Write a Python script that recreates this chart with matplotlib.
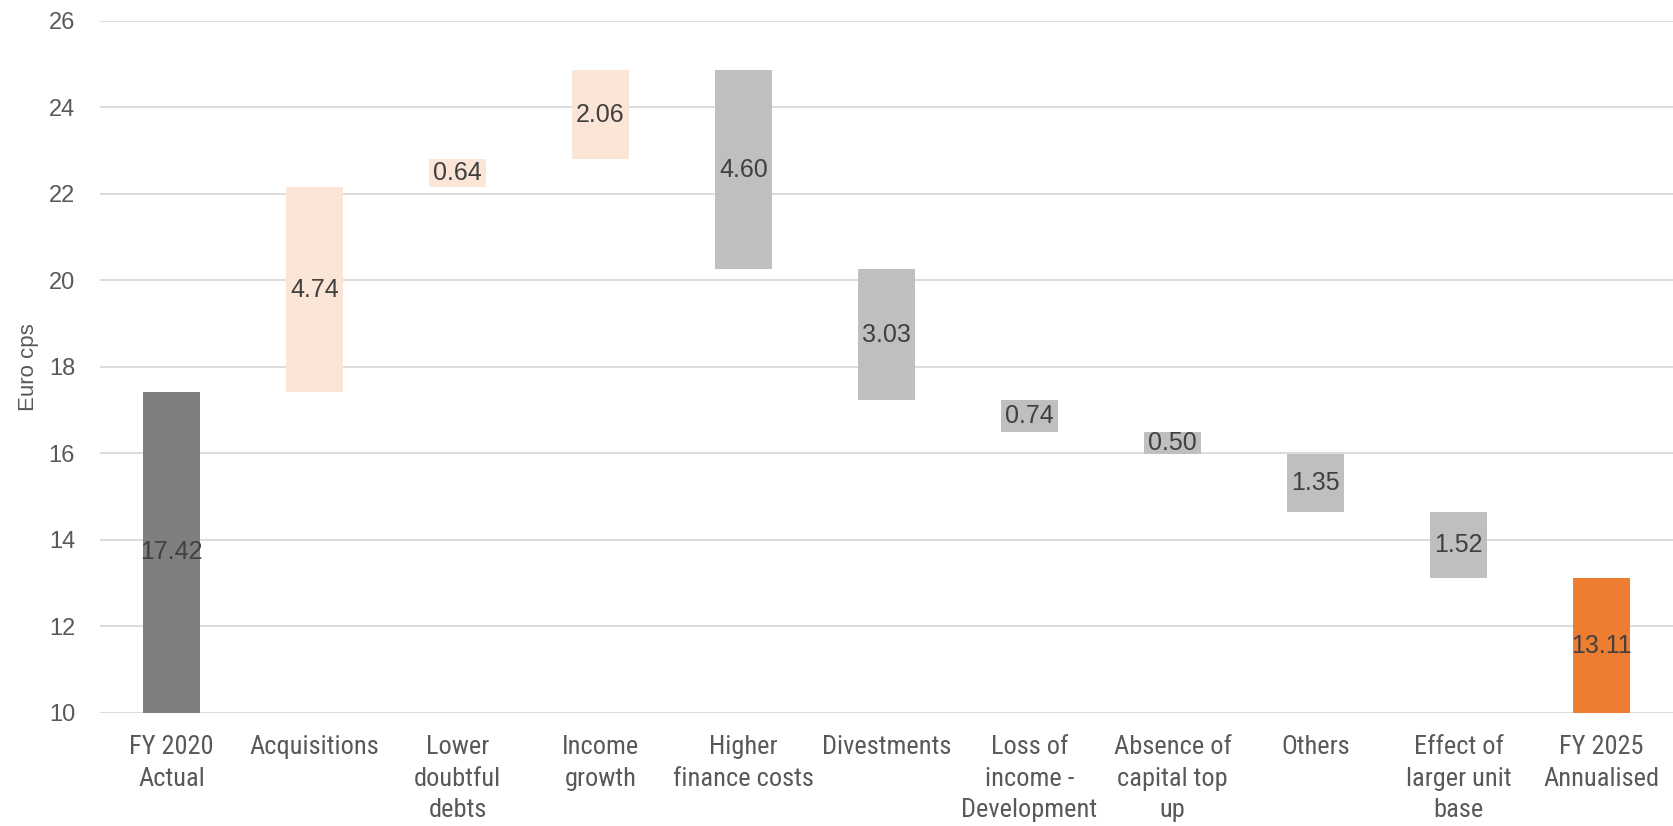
import matplotlib
matplotlib.use("Agg")
import matplotlib.pyplot as plt
import numpy as np

# Bridge of distributable income per unit, FY 2020 to FY 2025
categories = ["FY 2020\nActual", "Acquisitions", "Lower\ndoubtful\ndebts", "Income\ngrowth",
              "Higher\nfinance costs", "Divestments", "Loss of\nincome -\nDevelopment",
              "Absence of\ncapital top\nup", "Others", "Effect of\nlarger unit\nbase",
              "FY 2025\nAnnualised"]
start_value = 17.42
changes = [4.74, 0.64, 2.06, -4.60, -3.03, -0.74, -0.50, -1.35, -1.52]
end_value = 13.11

y_min, y_max, y_step = 10, 26, 2

c_start = "#7f7f7f"
c_up = "#fbe5d6"
c_down = "#bfbfbf"
c_end = "#ed7d31"
label_color = "#404040"
tick_color = "#595959"

narrow = ["Liberation Sans Narrow", "Roboto Condensed", "Liberation Sans"]

fig = plt.figure(figsize=(16.73, 8.26), dpi=100)
ax = fig.add_axes([0.0598, 0.137, 0.9402, 0.8376])

x = np.arange(len(categories))
width = 0.40

# running totals for floating bars
bottoms, heights, colors, labels = [], [], [], []
bottoms.append(y_min)
heights.append(start_value - y_min)
colors.append(c_start)
labels.append((start_value + y_min) / 2)
level = start_value
for d in changes:
    lo = min(level, level + d)
    bottoms.append(lo)
    heights.append(abs(d))
    colors.append(c_up if d > 0 else c_down)
    labels.append(lo + abs(d) / 2)
    level += d
bottoms.append(y_min)
heights.append(end_value - y_min)
colors.append(c_end)
labels.append((end_value + y_min) / 2)

values = [start_value] + changes + [end_value]

ax.bar(x, heights, bottom=bottoms, width=width, color=colors, zorder=3)
for xi, yl, v in zip(x, labels, values):
    ax.text(xi, yl, f"{abs(v):.2f}", ha="center", va="center", fontsize=18,
            color=label_color, family="Liberation Sans", zorder=4)

ax.set_xlim(-0.5, len(categories) - 0.5)
ax.set_ylim(y_min, y_max)
ax.set_yticks(np.arange(y_min, y_max + 1, y_step))
ax.grid(axis="y", color="#d9d9d9", linewidth=1.3, zorder=0)
for s in ax.spines.values():
    s.set_visible(False)
ax.tick_params(axis="both", length=0)
ax.tick_params(axis="y", pad=18, labelcolor=tick_color)
ax.tick_params(axis="x", pad=16, labelcolor=tick_color)

ax.set_xticks(x)
ax.set_xticklabels(categories, linespacing=1.4)
for t in ax.get_xticklabels():
    t.set_family(narrow)
    t.set_fontsize(19)
    t.set_verticalalignment("top")
for t in ax.get_yticklabels():
    t.set_family("Liberation Sans")
    t.set_fontsize(17)

ax.set_ylabel("Euro cps", family="Liberation Sans", fontsize=16, color=tick_color)
ax.yaxis.set_label_coords(-0.039, 0.5)

fig.savefig("out.png", dpi=100, facecolor="white")
